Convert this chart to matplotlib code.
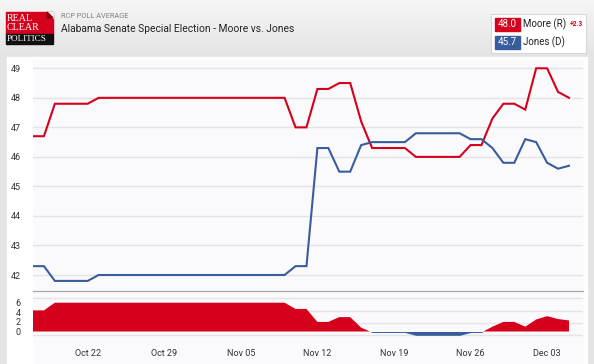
import numpy as np
import pandas as pd
import matplotlib
matplotlib.use("Agg")
import matplotlib.pyplot as plt
import matplotlib.dates as mdates
from matplotlib.patches import Rectangle, Polygon
from matplotlib.colors import LinearSegmentedColormap

# ---------------- data ----------------
dates = pd.date_range("2017-10-17", "2017-12-05", freq="D")
moore = ([46.7, 46.7, 47.8, 47.8, 47.8, 47.8] + [48.0] * 18 +
         [47.0, 47.0, 48.3, 48.3, 48.5, 48.5, 47.2, 46.3, 46.3, 46.3, 46.3,
          46.0, 46.0, 46.0, 46.0, 46.0, 46.4, 46.4, 47.3, 47.8, 47.8,
          47.6, 49.0, 49.0, 48.2, 48.0])
jones = ([42.3, 42.3, 41.8, 41.8, 41.8, 41.8] + [42.0] * 18 +
         [42.3, 42.3, 46.3, 46.3, 45.5, 45.5, 46.4, 46.5, 46.5, 46.5, 46.5,
          46.8, 46.8, 46.8, 46.8, 46.8, 46.6, 46.6, 46.3, 45.8, 45.8,
          46.6, 46.5, 45.8, 45.6, 45.7])
main_yticks = [42, 43, 44, 45, 46, 47, 48, 49]
spread_yticks = [0, 2, 4, 6]
tick_dates = ["2017-10-22", "2017-10-29", "2017-11-05", "2017-11-12",
              "2017-11-19", "2017-11-26", "2017-12-03"]
title = "Alabama Senate Special Election - Moore vs. Jones"
subtitle = "RCP POLL AVERAGE"
cand_names = ["Moore (R)", "Jones (D)"]
cand_values = ["48.0", "45.7"]
lead_text = "+2.3"

RED = "#d5001b"
BLUE = "#385d9d"

W, H = 594, 364
fig = plt.figure(figsize=(W / 100, H / 100), dpi=100)
fig.patch.set_facecolor("#e4e4e4")

def fx(x):
    return x / W

def fy(y):
    return 1 - y / H

# header gradient
bg = fig.add_axes([0, 0, 1, 1], zorder=-10)
grad = np.linspace(0, 1, 100).reshape(-1, 1)
cm = LinearSegmentedColormap.from_list("g", ["#f6f6f6", "#e3e3e3"])
bg.imshow(grad, aspect="auto", cmap=cm, extent=[0, 1, 1 - 60 / H, 1])
bg.set_xlim(0, 1)
bg.set_ylim(0, 1)
bg.axis("off")
bg.add_patch(Rectangle((0, 0), 1, 1 - 60 / H, color="#e4e4e4", zorder=-1))
# card
bg.add_patch(Rectangle((fx(7), 0), fx(587) - fx(7), fy(57), color="white", zorder=1))
# plot area background
bg.add_patch(Rectangle((fx(33), 0), fx(583) - fx(33), fy(60), color="#fafafd", zorder=2))

# logo
bg.add_patch(Rectangle((fx(6), fy(34)), fx(47), 22 / H, color="#d5001b", zorder=3))
bg.add_patch(Polygon([(fx(47), fy(12)), (fx(53), fy(12)), (fx(53), fy(18))],
                     closed=True, color="#f0f0f0", zorder=4))
bg.add_patch(Polygon([(fx(47), fy(12)), (fx(53), fy(18)), (fx(47), fy(18))],
                     closed=True, color="#8a0010", zorder=4))
bg.add_patch(Rectangle((fx(6), fy(44)), fx(47), 10 / H, color="#111111", zorder=3))
for txt, yy, fs in [("REAL", 18.5, 7.2), ("CLEAR", 27.5, 7.2), ("POLITICS", 39.2, 6.6)]:
    bg.text(fx(7), fy(yy), txt, color="white", fontsize=fs, family="Liberation Serif",
            va="center", ha="left", zorder=5)

bg.text(fx(61), fy(16), subtitle, color="#808080", fontsize=5.3, family="Roboto",
        va="center", ha="left", zorder=5)
bg.text(fx(61), fy(29.5), title, color="#222222", fontsize=7.4, family="Roboto",
        va="center", ha="left", zorder=5)

# legend box
bg.add_patch(Rectangle((fx(491), fy(53)), fx(95), 39 / H, facecolor="white",
                       edgecolor="#d8d8d8", lw=0.8, zorder=3))
for i, (nm, val, col) in enumerate(zip(cand_names, cand_values, [RED, BLUE])):
    yc = 24 + i * 18
    bg.add_patch(Rectangle((fx(495), fy(yc + 6.5)), fx(25), 13 / H, color=col, zorder=4))
    bg.text(fx(507.5), fy(yc), val, color="white", fontsize=7, family="Roboto",
            ha="center", va="center", zorder=5)
    bg.text(fx(523), fy(yc), nm, color="#222222", fontsize=7, family="Roboto",
            ha="left", va="center", zorder=5)
bg.text(fx(570), fy(24.5), lead_text, color=RED, fontsize=4.8, family="Roboto",
        fontweight="bold", ha="left", va="center", zorder=5)

# ---------------- main axes ----------------
x0d = mdates.date2num(dates[0])
px_per_day = (569 - 33) / 49.0
xlim = (x0d, x0d + (583 - 33) / px_per_day)

top_px, bot_px = 60, 291
ppu = (275 - 68.3) / 7.0
ax = fig.add_axes([fx(33), fy(bot_px), fx(583) - fx(33), (bot_px - top_px) / H], zorder=5)
ax.set_facecolor("none")
ax.plot(dates, moore, color=RED, lw=1.5, solid_joinstyle="miter", zorder=3)
ax.plot(dates, jones, color=BLUE, lw=1.5, solid_joinstyle="miter", zorder=3)
ax.set_xlim(*xlim)
ax.set_ylim(42 - (bot_px - 275) / ppu, 49 + (68.3 - top_px) / ppu)
ax.set_yticks(main_yticks)
ax.grid(axis="y", color="#e4e4e6", lw=1)
ax.set_axisbelow(True)
for s in ["top", "right", "left"]:
    ax.spines[s].set_visible(False)
ax.spines["bottom"].set_color("#a8a8a8")
ax.spines["bottom"].set_linewidth(0.9)
ax.tick_params(axis="y", length=0, labelsize=6.5, labelcolor="#333333", pad=9)
ax.tick_params(axis="x", length=0, labelbottom=False)
for lab in ax.get_yticklabels():
    lab.set_family("Roboto")

# ---------------- spread axes ----------------
spread = np.array(moore) - np.array(jones)
sp_top, sp_bot = 291, 345
zero_px = 331.5
sppu = 4.8
ax2 = fig.add_axes([fx(33), fy(sp_bot), fx(583) - fx(33), (sp_bot - sp_top) / H], zorder=4)
ax2.set_facecolor("none")
ax2.fill_between(dates, 0, spread, where=spread >= 0, interpolate=True,
                 color=RED, lw=0, zorder=3)
ax2.fill_between(dates, 0, spread, where=spread <= 0, interpolate=True,
                 color=BLUE, lw=0, zorder=3)
ax2.set_xlim(*xlim)
ax2.set_ylim(-(sp_bot - zero_px) / sppu, (zero_px - sp_top) / sppu)
for gpx in [298, 310.7, 323, 335]:
    ax2.axhline((zero_px - gpx) / sppu, color="#e4e4e6", lw=1, zorder=1)
ax2.set_yticks(spread_yticks)
for s in ["top", "right", "left", "bottom"]:
    ax2.spines[s].set_visible(False)
ax2.tick_params(axis="y", length=0, labelsize=6.5, labelcolor="#333333", pad=9)
ax2.set_xticks(pd.to_datetime(tick_dates))
ax2.xaxis.set_major_formatter(mdates.DateFormatter("%b %d"))
ax2.tick_params(axis="x", length=0, labelsize=6.5, labelcolor="#333333", pad=3)
for lab in ax2.get_yticklabels() + ax2.get_xticklabels():
    lab.set_family("Roboto")

fig.savefig("out.png", dpi=100, facecolor=fig.get_facecolor())
